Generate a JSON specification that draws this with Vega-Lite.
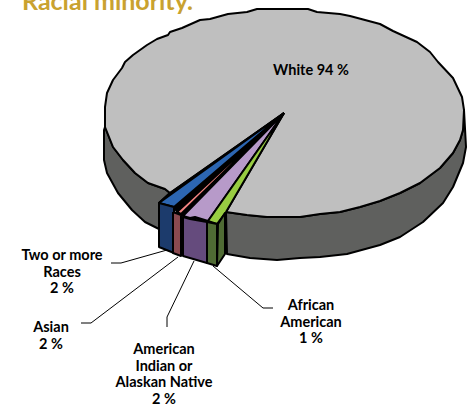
{
  "$schema": "https://vega.github.io/schema/vega-lite/v6.json",
  "width": 467,
  "height": 405,
  "padding": 0,
  "autosize": {"type": "none"},
  "background": "white",
  "view": {"stroke": null},
  "datasets": {
    "faces": [
      {"part":"side-left","face":"White side","i":1,"x":-179,"y":-14},{"part":"side-left","face":"White side","i":2,"x":-171,"y":-34},{"part":"side-left","face":"White side","i":3,"x":-161,"y":-47},{"part":"side-left","face":"White side","i":4,"x":-149,"y":-60},{"part":"side-left","face":"White side","i":5,"x":-136,"y":-70},{"part":"side-left","face":"White side","i":6,"x":-119,"y":-76},{"part":"side-left","face":"White side","i":7,"x":-114,"y":-80},{"part":"side-left","face":"White side","i":8,"x":-125,"y":-90},{"part":"side-left","face":"White side","i":9,"x":-125,"y":-116},{"part":"side-left","face":"White side","i":10,"x":-139,"y":-109},{"part":"side-left","face":"White side","i":11,"x":-152,"y":-97},{"part":"side-left","face":"White side","i":12,"x":-166,"y":-80},{"part":"side-left","face":"White side","i":13,"x":-177,"y":-60},{"part":"side-left","face":"White side","i":14,"x":-180,"y":-47},{"part":"side-left","face":"White side","i":15,"x":-180,"y":-17},{"part":"side-left","face":"White side","i":16,"x":-179,"y":-14},

      {"part":"side-right","face":"White side","i":1,"x":-58,"y":-99},{"part":"side-right","face":"White side","i":2,"x":-37,"y":-102},{"part":"side-right","face":"White side","i":3,"x":-17,"y":-104},{"part":"side-right","face":"White side","i":4,"x":16,"y":-104},{"part":"side-right","face":"White side","i":5,"x":36,"y":-101},{"part":"side-right","face":"White side","i":6,"x":56,"y":-99},{"part":"side-right","face":"White side","i":7,"x":76,"y":-94},{"part":"side-right","face":"White side","i":8,"x":96,"y":-88},{"part":"side-right","face":"White side","i":9,"x":116,"y":-80},{"part":"side-right","face":"White side","i":10,"x":136,"y":-70},{"part":"side-right","face":"White side","i":11,"x":156,"y":-55},{"part":"side-right","face":"White side","i":12,"x":169,"y":-40},{"part":"side-right","face":"White side","i":13,"x":176,"y":-27},{"part":"side-right","face":"White side","i":14,"x":179,"y":-17},{"part":"side-right","face":"White side","i":15,"x":180,"y":3},{"part":"side-right","face":"White side","i":16,"x":182,"y":-34},{"part":"side-right","face":"White side","i":17,"x":179,"y":-50},{"part":"side-right","face":"White side","i":18,"x":169,"y":-74},{"part":"side-right","face":"White side","i":19,"x":159,"y":-90},{"part":"side-right","face":"White side","i":20,"x":139,"y":-109},{"part":"side-right","face":"White side","i":21,"x":116,"y":-124},{"part":"side-right","face":"White side","i":22,"x":96,"y":-132},{"part":"side-right","face":"White side","i":23,"x":63,"y":-141},{"part":"side-right","face":"White side","i":24,"x":36,"y":-144},{"part":"side-right","face":"White side","i":25,"x":16,"y":-145},{"part":"side-right","face":"White side","i":26,"x":-7,"y":-147},{"part":"side-right","face":"White side","i":27,"x":-34,"y":-145},{"part":"side-right","face":"White side","i":28,"x":-57,"y":-141},{"part":"side-right","face":"White side","i":29,"x":-58,"y":-99},

      {"part":"top","face":"White top","i":1,"x":0,"y":0},{"part":"top","face":"White top","i":2,"x":-58,"y":-99},{"part":"top","face":"White top","i":3,"x":-37,"y":-102},{"part":"top","face":"White top","i":4,"x":-17,"y":-104},{"part":"top","face":"White top","i":5,"x":16,"y":-104},{"part":"top","face":"White top","i":6,"x":36,"y":-101},{"part":"top","face":"White top","i":7,"x":56,"y":-99},{"part":"top","face":"White top","i":8,"x":76,"y":-94},{"part":"top","face":"White top","i":9,"x":96,"y":-88},{"part":"top","face":"White top","i":10,"x":116,"y":-80},{"part":"top","face":"White top","i":11,"x":136,"y":-70},{"part":"top","face":"White top","i":12,"x":156,"y":-55},{"part":"top","face":"White top","i":13,"x":169,"y":-40},{"part":"top","face":"White top","i":14,"x":176,"y":-27},{"part":"top","face":"White top","i":15,"x":179,"y":-17},{"part":"top","face":"White top","i":16,"x":180,"y":3},{"part":"top","face":"White top","i":17,"x":178,"y":16},{"part":"top","face":"White top","i":18,"x":169,"y":35},{"part":"top","face":"White top","i":19,"x":154,"y":51},{"part":"top","face":"White top","i":20,"x":146,"y":61},{"part":"top","face":"White top","i":21,"x":133,"y":71},{"part":"top","face":"White top","i":22,"x":109,"y":82},{"part":"top","face":"White top","i":23,"x":96,"y":89},{"part":"top","face":"White top","i":24,"x":66,"y":97},{"part":"top","face":"White top","i":25,"x":56,"y":99},{"part":"top","face":"White top","i":26,"x":33,"y":101},{"part":"top","face":"White top","i":27,"x":24,"y":104},{"part":"top","face":"White top","i":28,"x":-27,"y":104},{"part":"top","face":"White top","i":29,"x":-37,"y":101},{"part":"top","face":"White top","i":30,"x":-56,"y":99},{"part":"top","face":"White top","i":31,"x":-74,"y":94},{"part":"top","face":"White top","i":32,"x":-84,"y":93},{"part":"top","face":"White top","i":33,"x":-102,"y":85},{"part":"top","face":"White top","i":34,"x":-114,"y":81},{"part":"top","face":"White top","i":35,"x":-116,"y":78},{"part":"top","face":"White top","i":36,"x":-127,"y":74},{"part":"top","face":"White top","i":37,"x":-137,"y":68},{"part":"top","face":"White top","i":38,"x":-151,"y":58},{"part":"top","face":"White top","i":39,"x":-159,"y":51},{"part":"top","face":"White top","i":40,"x":-162,"y":45},{"part":"top","face":"White top","i":41,"x":-171,"y":33},{"part":"top","face":"White top","i":42,"x":-177,"y":20},{"part":"top","face":"White top","i":43,"x":-179,"y":6},{"part":"top","face":"White top","i":44,"x":-179,"y":-14},{"part":"top","face":"White top","i":45,"x":-171,"y":-34},{"part":"top","face":"White top","i":46,"x":-161,"y":-47},{"part":"top","face":"White top","i":47,"x":-149,"y":-60},{"part":"top","face":"White top","i":48,"x":-136,"y":-70},{"part":"top","face":"White top","i":49,"x":-119,"y":-76},{"part":"top","face":"White top","i":50,"x":-114,"y":-80},{"part":"top","face":"White top","i":51,"x":0,"y":0},

      {"part":"seam","face":"Seam","i":1,"x":0,"y":0},{"part":"seam","face":"Seam","i":2,"x":-114,"y":-80},{"part":"seam","face":"Seam","i":3,"x":-125,"y":-90},{"part":"seam","face":"Seam","i":4,"x":-110,"y":-94},{"part":"seam","face":"Seam","i":5,"x":-107,"y":-99},{"part":"seam","face":"Seam","i":6,"x":-103,"y":-101},{"part":"seam","face":"Seam","i":7,"x":-101,"y":-103},{"part":"seam","face":"Seam","i":8,"x":-76,"y":-108},{"part":"seam","face":"Seam","i":9,"x":0,"y":0},

      {"part":"two-top","face":"Two or more top","i":1,"x":0,"y":0},{"part":"two-top","face":"Two or more top","i":2,"x":-125,"y":-90},{"part":"two-top","face":"Two or more top","i":3,"x":-110,"y":-94},{"part":"two-top","face":"Two or more top","i":4,"x":0,"y":0},
      {"part":"asian-top","face":"Asian top","i":1,"x":0,"y":0},{"part":"asian-top","face":"Asian top","i":2,"x":-107,"y":-99},{"part":"asian-top","face":"Asian top","i":3,"x":-103,"y":-101},{"part":"asian-top","face":"Asian top","i":4,"x":0,"y":0},
      {"part":"native-top","face":"Native top","i":1,"x":0,"y":0},{"part":"native-top","face":"Native top","i":2,"x":-101,"y":-103},{"part":"native-top","face":"Native top","i":3,"x":-94,"y":-105},{"part":"native-top","face":"Native top","i":4,"x":-89,"y":-104},{"part":"native-top","face":"Native top","i":5,"x":-76,"y":-108},{"part":"native-top","face":"Native top","i":6,"x":0,"y":0},
      {"part":"african-top","face":"African top","i":1,"x":0,"y":0},{"part":"african-top","face":"African top","i":2,"x":-76,"y":-108},{"part":"african-top","face":"African top","i":3,"x":-67,"y":-111},{"part":"african-top","face":"African top","i":4,"x":-58,"y":-99},{"part":"african-top","face":"African top","i":5,"x":0,"y":0},

      {"part":"two-side","face":"Two or more side","i":1,"x":-125,"y":-90},{"part":"two-side","face":"Two or more side","i":2,"x":-110,"y":-94},{"part":"two-side","face":"Two or more side","i":3,"x":-110,"y":-140},{"part":"two-side","face":"Two or more side","i":4,"x":-125,"y":-134},{"part":"two-side","face":"Two or more side","i":5,"x":-125,"y":-90},
      {"part":"asian-side","face":"Asian side","i":1,"x":-111,"y":-99},{"part":"asian-side","face":"Asian side","i":2,"x":-103,"y":-102},{"part":"asian-side","face":"Asian side","i":3,"x":-103,"y":-143},{"part":"asian-side","face":"Asian side","i":4,"x":-111,"y":-140},{"part":"asian-side","face":"Asian side","i":5,"x":-111,"y":-99},
      {"part":"native-side","face":"Native side","i":1,"x":-101,"y":-104},{"part":"native-side","face":"Native side","i":2,"x":-94,"y":-106},{"part":"native-side","face":"Native side","i":3,"x":-77,"y":-109},{"part":"native-side","face":"Native side","i":4,"x":-77,"y":-150},{"part":"native-side","face":"Native side","i":5,"x":-101,"y":-143},{"part":"native-side","face":"Native side","i":6,"x":-101,"y":-104},
      {"part":"african-front","face":"African side","i":1,"x":-77,"y":-109},{"part":"african-front","face":"African side","i":2,"x":-67,"y":-111},{"part":"african-front","face":"African side","i":3,"x":-67,"y":-153},{"part":"african-front","face":"African side","i":4,"x":-77,"y":-150},{"part":"african-front","face":"African side","i":5,"x":-77,"y":-109},
      {"part":"african-inner","face":"African side","i":1,"x":-66,"y":-111},{"part":"african-inner","face":"African side","i":2,"x":-59,"y":-100},{"part":"african-inner","face":"African side","i":3,"x":-59,"y":-141},{"part":"african-inner","face":"African side","i":4,"x":-67,"y":-153},{"part":"african-inner","face":"African side","i":5,"x":-66,"y":-111}
    ],
    "leaders": [
      {"label":"Two or more Races","i":1,"x":-173,"y":-150},{"label":"Two or more Races","i":2,"x":-163,"y":-150},{"label":"Two or more Races","i":3,"x":-117,"y":-137},
      {"label":"Asian","i":1,"x":-203,"y":-210},{"label":"Asian","i":2,"x":-193,"y":-210},{"label":"Asian","i":3,"x":-106,"y":-144},
      {"label":"American Indian or Alaskan Native","i":1,"x":-117,"y":-214},{"label":"American Indian or Alaskan Native","i":2,"x":-117,"y":-204},{"label":"American Indian or Alaskan Native","i":3,"x":-90,"y":-148},
      {"label":"African American","i":1,"x":-11,"y":-195},{"label":"African American","i":2,"x":-21,"y":-195},{"label":"African American","i":3,"x":-71,"y":-153}
    ],
    "labels": [
      {"text":"White 94 %","x":27,"y":42},
      {"text":"Two or more\nRaces\n2 %","x":-222,"y":-143},
      {"text":"Asian\n2 %","x":-233,"y":-215},
      {"text":"American\nIndian or\nAlaskan Native\n2 %","x":-120,"y":-237},
      {"text":"African\nAmerican\n1 %","x":27,"y":-193}
    ],
    "heading": [{"text":"Racial minority.","x":-262,"y":103}]
  },
  "layer": [
    {
      "data": {"name": "faces"},
      "mark": {"type": "line", "stroke": "#000000", "strokeWidth": 2, "strokeJoin": "round", "interpolate": "linear"},
      "encoding": {
        "x": {"field": "x", "type": "quantitative", "scale": {"domain": [-284, 183], "nice": false, "zero": false}, "axis": null},
        "y": {"field": "y", "type": "quantitative", "scale": {"domain": [-292, 113], "nice": false, "zero": false}, "axis": null},
        "order": {"field": "i", "type": "quantitative"},
        "detail": {"field": "part"},
        "fill": {
          "field": "face",
          "type": "nominal",
          "legend": null,
          "scale": {
            "domain": ["White side","White top","Seam","Two or more top","Asian top","Native top","African top","Two or more side","Asian side","Native side","African side"],
            "range": ["#5f605e","#bfbfbf","#000000","#2c66b2","#f58583","#b79ac9","#98cc42","#1c3b6c","#8a4a50","#654b7d","#4f6b34"]
          }
        }
      }
    },
    {
      "data": {"name": "leaders"},
      "mark": {"type": "line", "stroke": "#000000", "strokeWidth": 1},
      "encoding": {
        "x": {"field": "x", "type": "quantitative", "scale": {"domain": [-284, 183], "nice": false, "zero": false}, "axis": null},
        "y": {"field": "y", "type": "quantitative", "scale": {"domain": [-292, 113], "nice": false, "zero": false}, "axis": null},
        "order": {"field": "i", "type": "quantitative"},
        "detail": {"field": "label"}
      }
    },
    {
      "data": {"name": "labels"},
      "mark": {"type": "text", "font": "Lato", "fontWeight": "bold", "fontSize": 14.5, "color": "#000000", "align": "center", "baseline": "middle", "lineBreak": "\n", "lineHeight": 16.5},
      "encoding": {
        "x": {"field": "x", "type": "quantitative", "scale": {"domain": [-284, 183], "nice": false, "zero": false}, "axis": null},
        "y": {"field": "y", "type": "quantitative", "scale": {"domain": [-292, 113], "nice": false, "zero": false}, "axis": null},
        "text": {"field": "text"}
      }
    },
    {
      "data": {"name": "heading"},
      "mark": {"type": "text", "font": "Lato", "fontWeight": "bold", "fontSize": 25, "color": "#c9a22f", "align": "left", "baseline": "alphabetic"},
      "encoding": {
        "x": {"field": "x", "type": "quantitative", "scale": {"domain": [-284, 183], "nice": false, "zero": false}, "axis": null},
        "y": {"field": "y", "type": "quantitative", "scale": {"domain": [-292, 113], "nice": false, "zero": false}, "axis": null},
        "text": {"field": "text"}
      }
    }
  ]
}
